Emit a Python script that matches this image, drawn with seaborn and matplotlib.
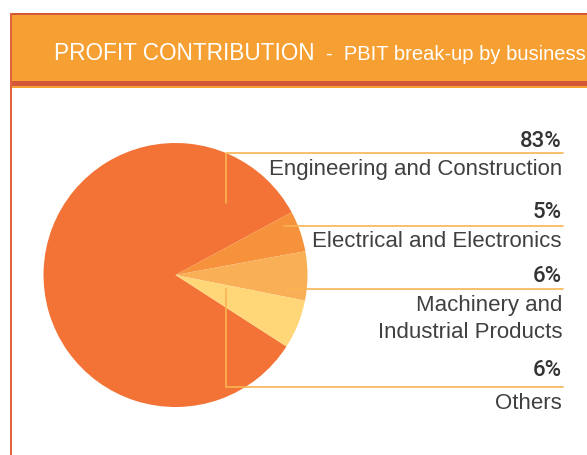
import numpy as np
import seaborn as sns
import matplotlib.pyplot as plt
from matplotlib.patches import Rectangle

sns.set_theme(style="white")
plt.rcParams['font.family'] = ['Liberation Sans', 'DejaVu Sans']

# data
segmentos = ["Engineering and Construction", "Electrical and Electronics",
             "Machinery and\nIndustrial Products", "Others"]
percentuais = [83, 5, 6, 6]
cores = ["#F37336", "#F6923C", "#F9AF56", "#FFD678"]

W, H = 587, 455
fig = plt.figure(figsize=(W / 100, H / 100), dpi=100)
fig.patch.set_facecolor("white")

# pie, centre (175.5, 275) px, radius 132 px
cx, cy, r = 175.5, 275, 132
ax = fig.add_axes([(cx - r) / W, (H - cy - r) / H, 2 * r / W, 2 * r / H])
ax.pie(percentuais, colors=cores, startangle=327.2, counterclock=False,
       radius=1, wedgeprops=dict(linewidth=0))
ax.set_xlim(-1, 1)
ax.set_ylim(-1, 1)
ax.set_aspect("equal")
ax.axis("off")

# overlay in pixel coords for header, leader lines and labels
ov = fig.add_axes([0, 0, 1, 1], facecolor="none")
ov.set_xlim(0, W)
ov.set_ylim(H, 0)
ov.axis("off")

escuro = "#D4573A"
laranja = "#F6A033"
ov.add_patch(Rectangle((9.5, 13), W, 2, color=escuro, lw=0))
ov.add_patch(Rectangle((9.5, 15), W, 66, color=laranja, lw=0))
ov.add_patch(Rectangle((9.5, 81), W, 5, color=escuro, lw=0))
ov.add_patch(Rectangle((9.5, 86), W, 1.5, color=laranja, lw=0))
ov.add_patch(Rectangle((9.5, 13), 2, H, color="#E0623F", lw=0))

ov.text(54, 60.5, "PROFIT CONTRIBUTION", color="white", fontsize=16.3,
        va="baseline")
ov.text(326, 60, "-  PBIT break-up by business", color="white", fontsize=14.5,
        va="baseline")

# leader lines
linha = "#F9B450"
ov.plot([226, 226, 562.5], [203, 152.5, 152.5], color=linha, lw=1.2)
ov.plot([284, 562.5], [226.3, 226.3], color=linha, lw=1.2)
ov.plot([288, 562.5], [289, 289], color=linha, lw=1.2)
ov.plot([226, 226, 562.5], [288.5, 386.7, 386.7], color=linha, lw=1.2)

# labels
pct_y = [147, 218.5, 282.3, 376]
lab_y = [175, 246.7, 311, 409.3]
for p, s, yp, yl in zip(percentuais, segmentos, pct_y, lab_y):
    ov.text(562, yp, f"{p}%", ha="right", va="baseline", fontsize=16,
            color="#333333", family=['Roboto', 'Liberation Sans'], fontweight="medium")
    for k, t in enumerate(s.split("\n")):
        ov.text(562, yl + k * 27.3, t, ha="right", va="baseline",
                fontsize=16, color="#404040")

plt.savefig("out.png", dpi=100)
